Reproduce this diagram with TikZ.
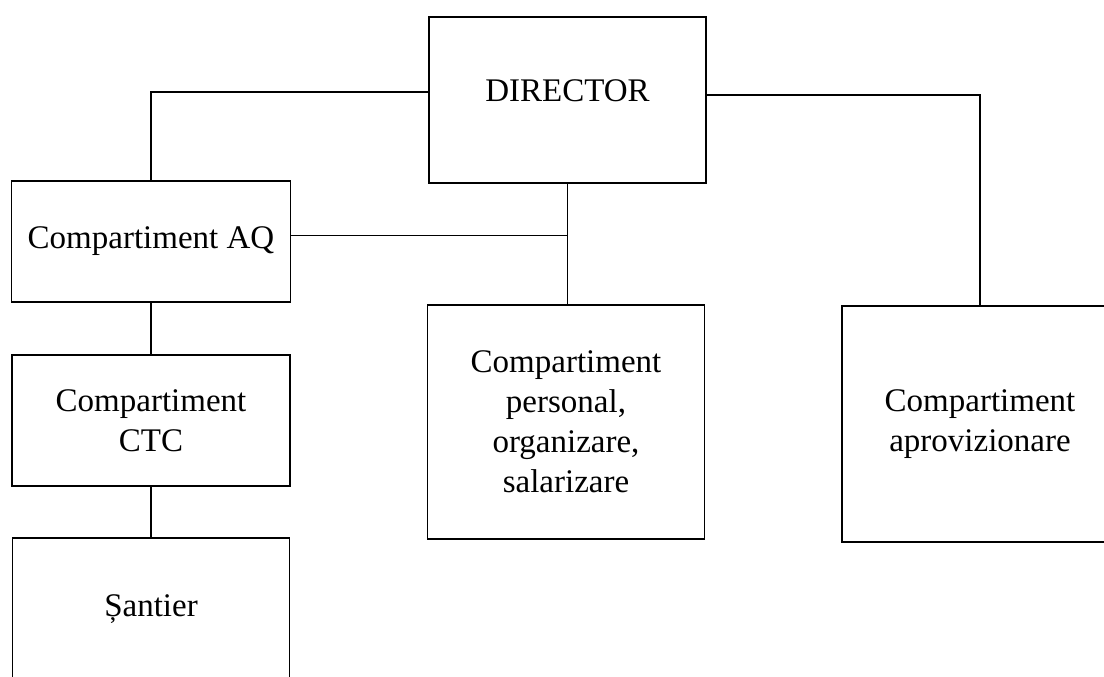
\documentclass[tikz,border=0pt]{standalone}
\usepackage{fontspec}
\setmainfont{Liberation Serif}
\begin{document}
\begin{tikzpicture}[x=1pt,y=-1pt,
  box/.style={draw,line width=1.3pt,rectangle,inner sep=0pt,align=center,
    font=\fontsize{33}{40}\selectfont},
  conn/.style={line width=1.3pt}]
\useasboundingbox (0,0) rectangle (1104,677);
\clip (0,0) rectangle (1104,677);
\node[box,minimum width=277pt,minimum height=166pt,text depth=19pt] (dir) at (567.5,100) {DIRECTOR};
\node[box,minimum width=279pt,minimum height=121pt] (aq) at (151,241.5) {Compartiment AQ};
\node[box,minimum width=278pt,minimum height=131pt] (ctc) at (151,420.5) {Compartiment\\CTC};
\node[box,minimum width=277pt,minimum height=142pt] (san) at (151,609) {Șantier};
\node[box,minimum width=277pt,minimum height=234pt] (per) at (566,422) {Compartiment\\personal,\\organizare,\\salarizare};
\node[box,minimum width=276pt,minimum height=236pt] (apr) at (980,424) {Compartiment\\aprovizionare};
\draw[conn] ([yshift=8pt]dir.west) -| (aq.north);
\draw[conn] ([yshift=5pt]dir.east) -| (apr.north);
\draw[conn] (dir.south) -- (dir.south |- per.north);
\draw[conn] ([yshift=6pt]aq.east) -- ([yshift=6pt]aq.east -| dir.south);
\draw[conn] (aq.south) -- (ctc.north);
\draw[conn] (ctc.south) -- (san.north);
\end{tikzpicture}
\end{document}
